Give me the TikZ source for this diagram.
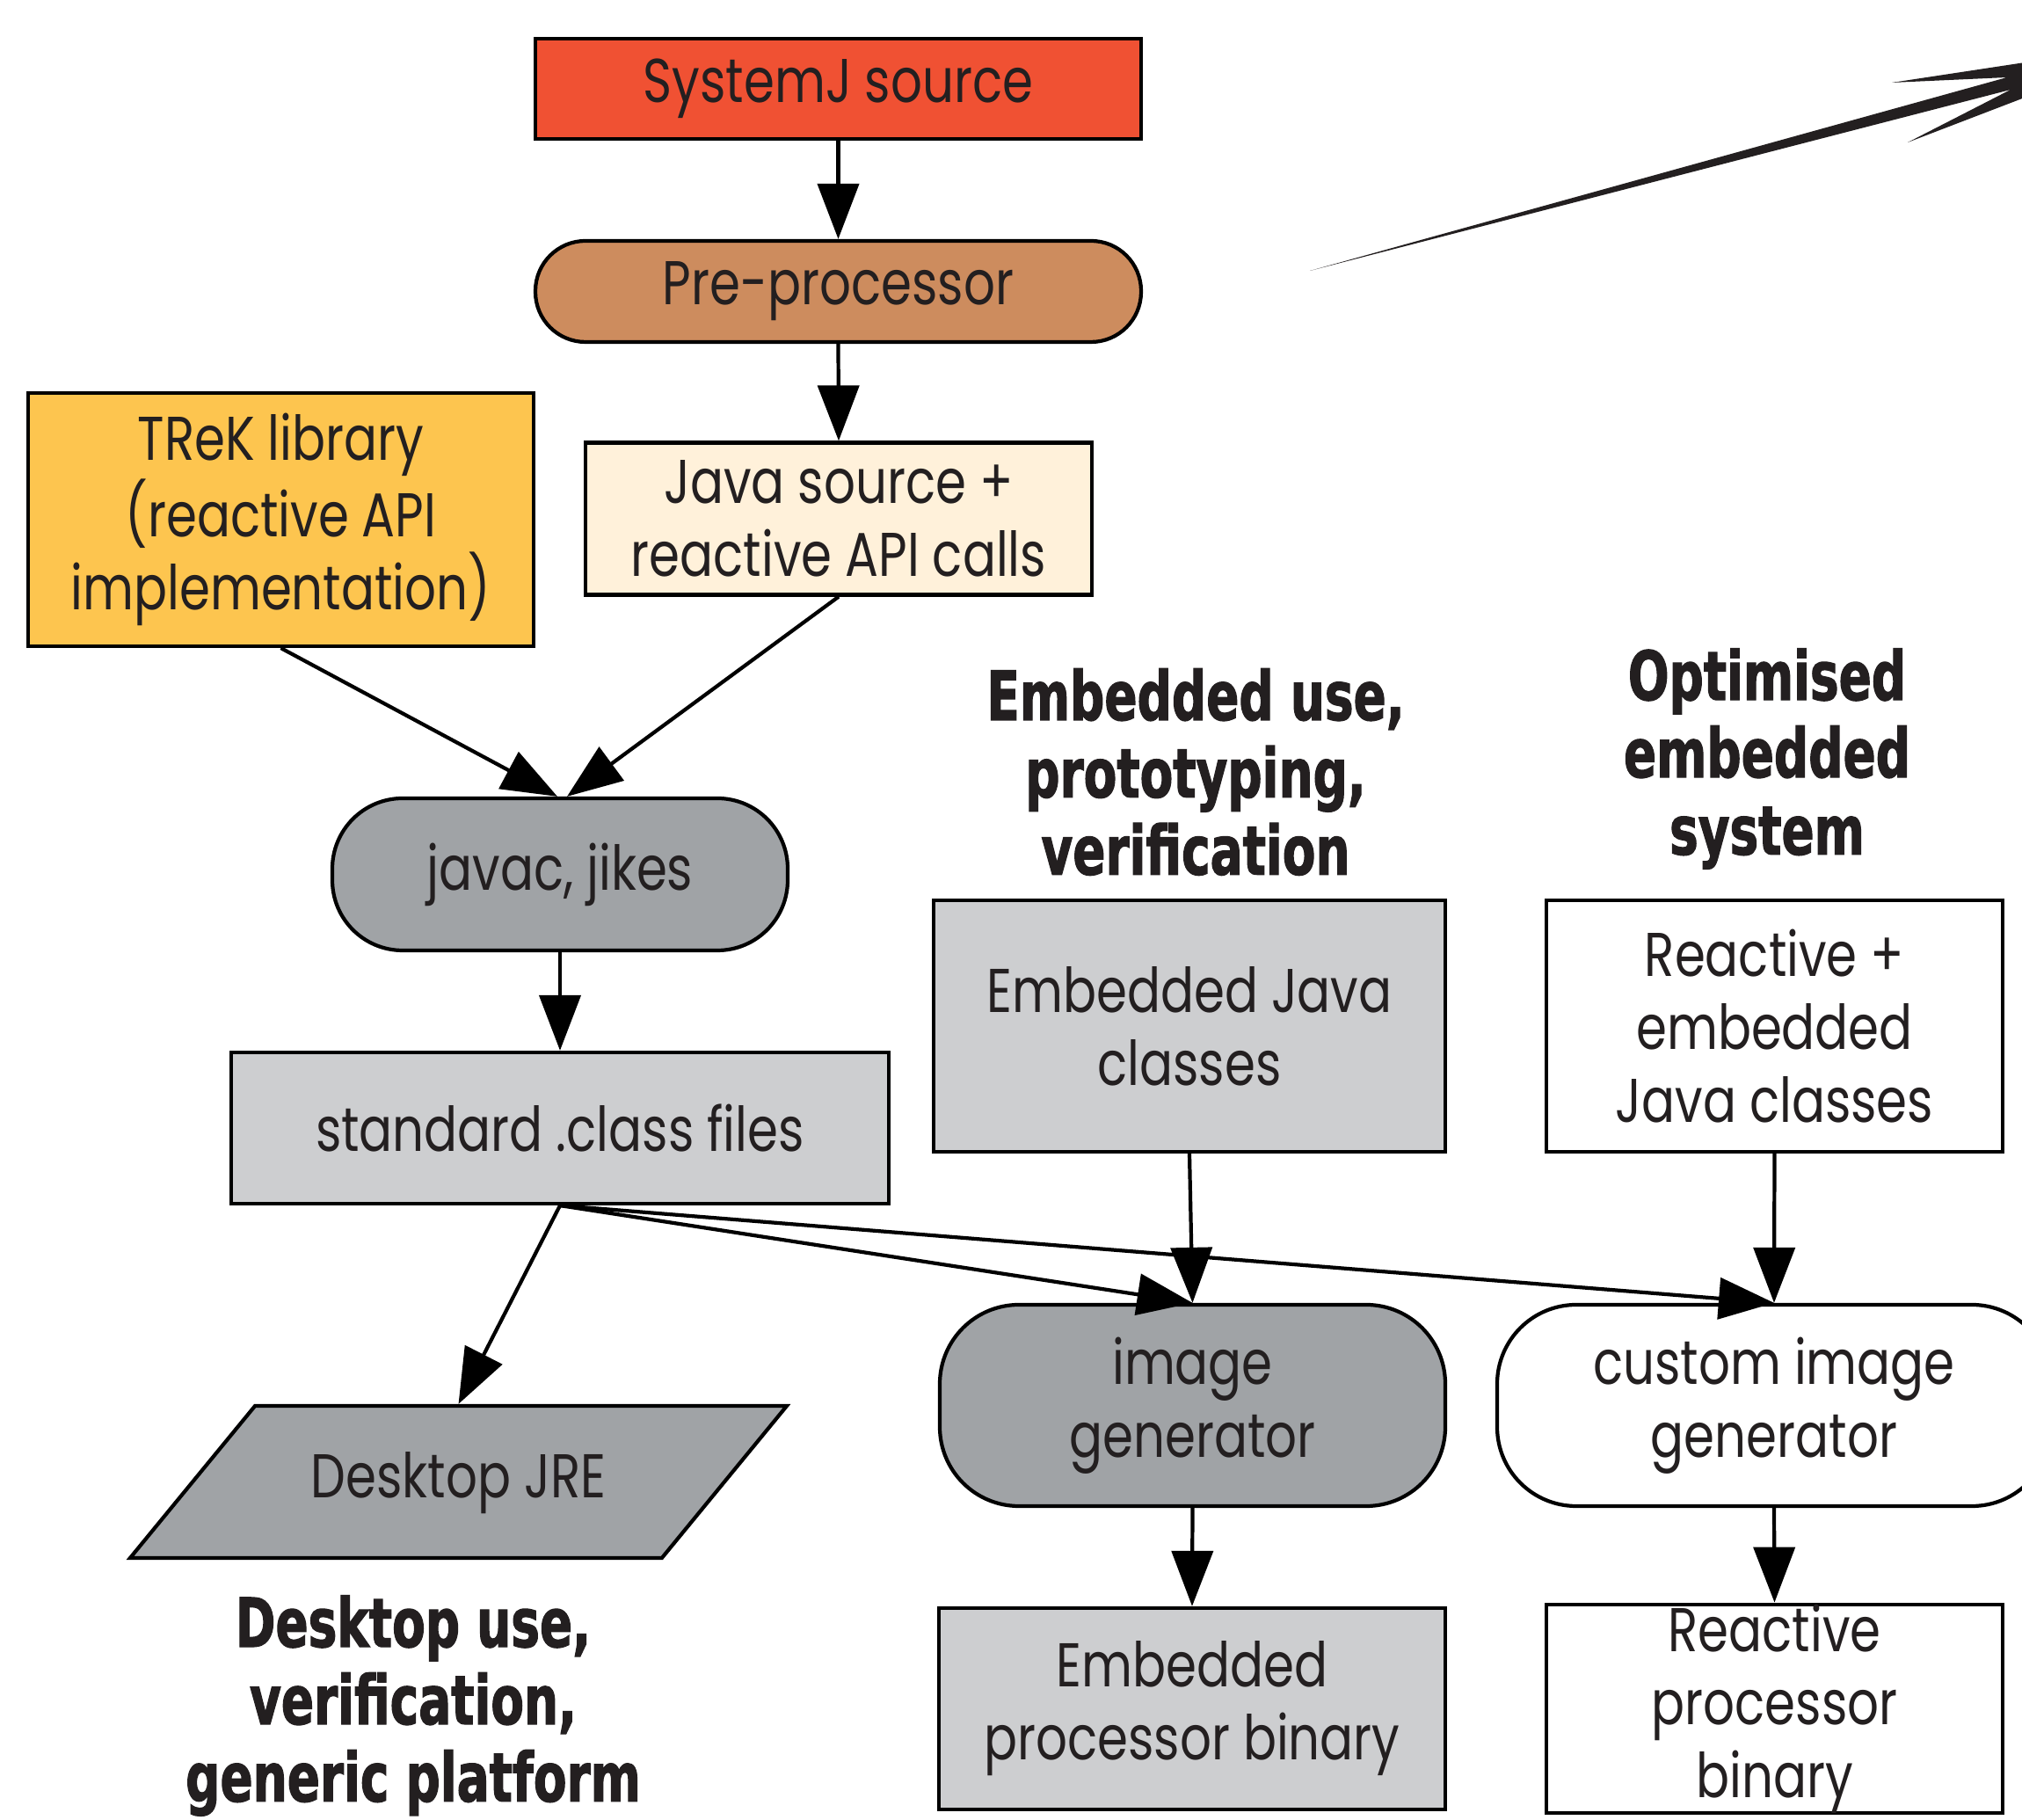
\documentclass[tikz,border=0pt]{standalone}
\usepackage{fontspec}
\setmainfont{Poppins}[FakeStretch=0.80]
\newfontfamily\labelfont{DejaVu Sans}[FakeStretch=0.71, BoldFeatures={FakeBold=1.5}]
\usetikzlibrary{arrows.meta,positioning,shapes.geometric}

\definecolor{ink}{HTML}{231F20}
\definecolor{srcred}{HTML}{F05133}
\definecolor{pretan}{HTML}{CD8C5E}
\definecolor{libgold}{HTML}{FDC54F}
\definecolor{javacream}{HTML}{FFF1DA}
\definecolor{darkgrey}{HTML}{A0A3A6}
\definecolor{lightgrey}{HTML}{CDCED0}

\begin{document}
\begin{tikzpicture}[
    font=\fontsize{20}{23.6}\selectfont, text=ink,
    box/.style={draw=black, line width=1.2pt, inner sep=0pt, align=center},
    pill/.style={box, rounded corners=#1},
    usage/.style={font=\labelfont\bfseries\fontsize{22}{25}\selectfont, align=center},
    flow/.style={-{Triangle[length=0.63cm,width=0.47cm]}, line width=1.2pt}
  ]
  \useasboundingbox (0,0) rectangle (23,20.7);
  \clip (0,0) rectangle (23,20.7);

  % compiler chain
  \node[box, fill=srcred, minimum width=6.89cm, minimum height=1.14cm] (src) at (9.535,19.69) {SystemJ source};
  \node[pill=0.57cm, fill=pretan, minimum width=6.89cm, minimum height=1.15cm] (pre) at (9.535,17.385) {Pre-processor};
  \node[box, fill=libgold, minimum width=5.75cm, minimum height=2.88cm] (trek) at (3.195,14.79) {TReK library\\(reactive API\\implementation)};
  \node[box, fill=javacream, minimum width=5.76cm, minimum height=1.73cm] (java) at (9.54,14.8) {Java source +\\reactive API calls};
  \node[pill=0.8cm, fill=darkgrey, minimum width=5.18cm, minimum height=1.73cm] (javac) at (6.37,10.755) {javac, jikes};
  \node[box, fill=lightgrey, minimum width=7.48cm, minimum height=1.72cm] (cls) at (6.37,7.87) {standard .class files};

  % targets
  \node[box, trapezium, trapezium stretches body=true, trapezium left angle=50.6, trapezium right angle=129.4,
        fill=darkgrey, minimum width=7.47cm] (jre) at (5.215,3.845) {\rule[-0.685cm]{0pt}{1.73cm}Desktop JRE};
  \node[box, fill=lightgrey, minimum width=5.82cm, minimum height=2.86cm] (embcls) at (13.53,9.03) {Embedded Java\\classes};
  \node[box, fill=white, minimum width=5.19cm, minimum height=2.86cm] (reacls) at (20.185,9.03) {Reactive +\\embedded\\Java classes};
  \node[pill=0.9cm, fill=darkgrey, minimum width=5.75cm, minimum height=2.29cm] (imgen) at (13.565,4.715) {image\\generator};
  \node[pill=0.9cm, fill=white, minimum width=6.3cm, minimum height=2.29cm] (cimgen) at (20.18,4.715) {custom image\\generator};
  \node[box, fill=lightgrey, minimum width=5.76cm, minimum height=2.29cm] (ebin) at (13.56,1.265) {Embedded\\processor binary};
  \node[box, fill=white, minimum width=5.19cm, minimum height=2.29cm] (rbin) at (20.185,1.265) {Reactive\\processor\\binary};

  % usage labels
  \node[usage] (desk) at (4.7,1.3) {Desktop use,\\verification,\\generic platform};
  \node[usage] (emb) at (13.6,11.92) {Embedded use,\\prototyping,\\verification};
  \node[usage] (opt) at (20.1,12.07) {Optimised\\embedded\\system};

  \draw[flow] (src.south) -- (pre.north);
  \draw[flow] (pre.south) -- (java.north);
  \draw[flow] (trek.south) -- ([xshift=-0.03cm]javac.north);
  \draw[flow] (java.south) -- ([xshift=0.08cm]javac.north);
  \draw[flow] (javac.south) -- (cls.north);
  \draw[flow] (cls.south) -- (jre.north);
  \draw[flow] (cls.south) -- (imgen.north);
  \draw[flow] (cls.south) -- (cimgen.north);
  \draw[flow] (embcls.south) -- (imgen.north);
  \draw[flow] (reacls.south) -- (cimgen.north);
  \draw[flow] (imgen.south) -- (ebin.north);
  \draw[flow] (cimgen.south) -- (rbin.north);

  % tapered arrow, top right
  \fill[ink] (14.90,17.62) -- (22.83,19.82) -- (21.52,19.76) -- (24.75,20.25)
    -- (21.70,19.08) -- (22.87,19.68) -- cycle;
\end{tikzpicture}
\end{document}
